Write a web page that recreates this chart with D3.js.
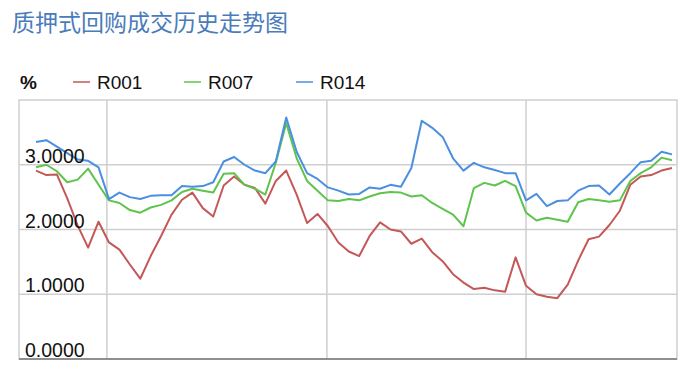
<!DOCTYPE html>
<html>
<head>
<meta charset="utf-8">
<script src="https://cdn.jsdelivr.net/npm/d3@7"></script>
<style>
  body { margin: 0; background: #fff; }
  svg { display: block; font-family: Arial, "Liberation Sans", sans-serif; }
</style>
</head>
<body>
<svg width="700" height="382"></svg>
<script>
const title = '质押式回购成交历史走势图'
const unit = '%'
const seriesNames = ['R001', 'R007', 'R014']
const colors = ['#c45858', '#5ec44c', '#4a8fe0']

// weekly points, left to right
const r001 = [2.91, 2.84, 2.85, 2.48, 2.06, 1.72, 2.12, 1.80, 1.69, 1.46,
  1.24, 1.59, 1.90, 2.23, 2.46, 2.57, 2.33, 2.20, 2.68, 2.82,
  2.69, 2.64, 2.40, 2.75, 2.91, 2.54, 2.10, 2.24, 2.05, 1.80,
  1.66, 1.59, 1.90, 2.11, 2.00, 1.97, 1.78, 1.86, 1.65, 1.51,
  1.31, 1.18, 1.08, 1.10, 1.06, 1.04, 1.57, 1.13, 1.00, 0.96,
  0.94, 1.15, 1.52, 1.85, 1.89, 2.07, 2.29, 2.69, 2.82, 2.84,
  2.91, 2.95]
const r007 = [2.96, 3.00, 2.90, 2.73, 2.77, 2.94, 2.69, 2.45, 2.41, 2.30,
  2.26, 2.34, 2.38, 2.45, 2.58, 2.63, 2.60, 2.57, 2.86, 2.87,
  2.69, 2.63, 2.54, 3.03, 3.64, 3.10, 2.75, 2.60, 2.45, 2.44,
  2.47, 2.45, 2.51, 2.56, 2.58, 2.57, 2.51, 2.53, 2.41, 2.32,
  2.23, 2.05, 2.64, 2.72, 2.68, 2.75, 2.67, 2.26, 2.14, 2.18,
  2.15, 2.12, 2.42, 2.47, 2.45, 2.43, 2.45, 2.75, 2.87, 2.96,
  3.11, 3.07]
const r014 = [3.35, 3.38, 3.28, 3.18, 3.08, 3.06, 2.96, 2.47, 2.57, 2.50,
  2.47, 2.52, 2.53, 2.53, 2.67, 2.66, 2.67, 2.73, 3.05, 3.12,
  3.00, 2.91, 2.87, 3.05, 3.73, 3.20, 2.87, 2.78, 2.65, 2.60,
  2.54, 2.55, 2.65, 2.63, 2.69, 2.66, 2.95, 3.68, 3.57, 3.43,
  3.10, 2.91, 3.03, 2.96, 2.92, 2.87, 2.87, 2.45, 2.55, 2.36,
  2.44, 2.45, 2.60, 2.67, 2.68, 2.54, 2.71, 2.87, 3.04, 3.06,
  3.20, 3.16]
const yTicks = [0, 1, 2, 3]
// vertical gridlines, in point-index units
const xGrid = [6.8, 27.9, 47]

const series = [r001, r007, r014]

const svg = d3.select('svg')
const plot = {left: 19, right: 677, top: 100, bottom: 359}

const n = r001.length
const x = d3.scaleLinear()
  .domain([-1.63, n - 0.52])
  .range([plot.left, plot.right])
const y = d3.scaleLinear()
  .domain([0, 4])
  .range([plot.bottom, plot.top])

// title
svg.append('text')
  .attr('x', 12)
  .attr('y', 31)
  .attr('fill', '#4a7bbb')
  .attr('font-size', 23)
  .attr('font-family', '"Noto Sans CJK SC", sans-serif')
  .text(title)

// unit + legend
svg.append('text')
  .attr('x', 20)
  .attr('y', 89)
  .attr('font-size', 19)
  .attr('font-weight', 'bold')
  .attr('fill', '#111')
  .text(unit)

const legendX = [73, 184, 296]
const legend = svg.append('g')
seriesNames.forEach((name, i) => {
  legend.append('line')
    .attr('x1', legendX[i]).attr('x2', legendX[i] + 17)
    .attr('y1', 82).attr('y2', 82)
    .attr('stroke', colors[i])
    .attr('stroke-width', 1.5)
  legend.append('text')
    .attr('x', legendX[i] + 24)
    .attr('y', 89)
    .attr('font-size', 19)
    .attr('fill', '#111')
    .text(name)
})

// frame and grid
const grid = svg.append('g')
grid.append('rect')
  .attr('x', plot.left).attr('y', plot.top)
  .attr('width', plot.right - plot.left)
  .attr('height', plot.bottom - plot.top)
  .attr('fill', 'none')
  .attr('stroke', '#cfcfcf')
  .attr('stroke-width', 1.5)

grid.selectAll('.hgrid')
  .data(yTicks.filter(d => d > 0))
  .join('line')
  .attr('class', 'hgrid')
  .attr('x1', plot.left).attr('x2', plot.right)
  .attr('y1', d => y(d)).attr('y2', d => y(d))
  .attr('stroke', '#cfcfcf')
  .attr('stroke-width', 1.5)

grid.selectAll('.vgrid')
  .data(xGrid)
  .join('line')
  .attr('class', 'vgrid')
  .attr('x1', d => x(d)).attr('x2', d => x(d))
  .attr('y1', plot.top).attr('y2', plot.bottom)
  .attr('stroke', '#cfcfcf')
  .attr('stroke-width', 1.5)

grid.append('line')
  .attr('x1', plot.left).attr('x2', plot.right)
  .attr('y1', plot.bottom).attr('y2', plot.bottom)
  .attr('stroke', '#8f8f8f')
  .attr('stroke-width', 2)

// lines
const line = d3.line()
  .x((d, i) => x(i))
  .y(d => y(d))

svg.append('g')
  .selectAll('path')
  .data(series)
  .join('path')
  .attr('d', line)
  .attr('fill', 'none')
  .attr('stroke', (d, i) => colors[i])
  .attr('stroke-width', 2)
  .attr('stroke-linejoin', 'round')

// y labels inside the plot
svg.append('g')
  .selectAll('text')
  .data(yTicks)
  .join('text')
  .attr('x', 25)
  .attr('y', d => y(d) - 2)
  .attr('font-size', 19.5)
  .attr('fill', '#111')
  .text(d => d3.format('.4f')(d))
</script>
</body>
</html>
